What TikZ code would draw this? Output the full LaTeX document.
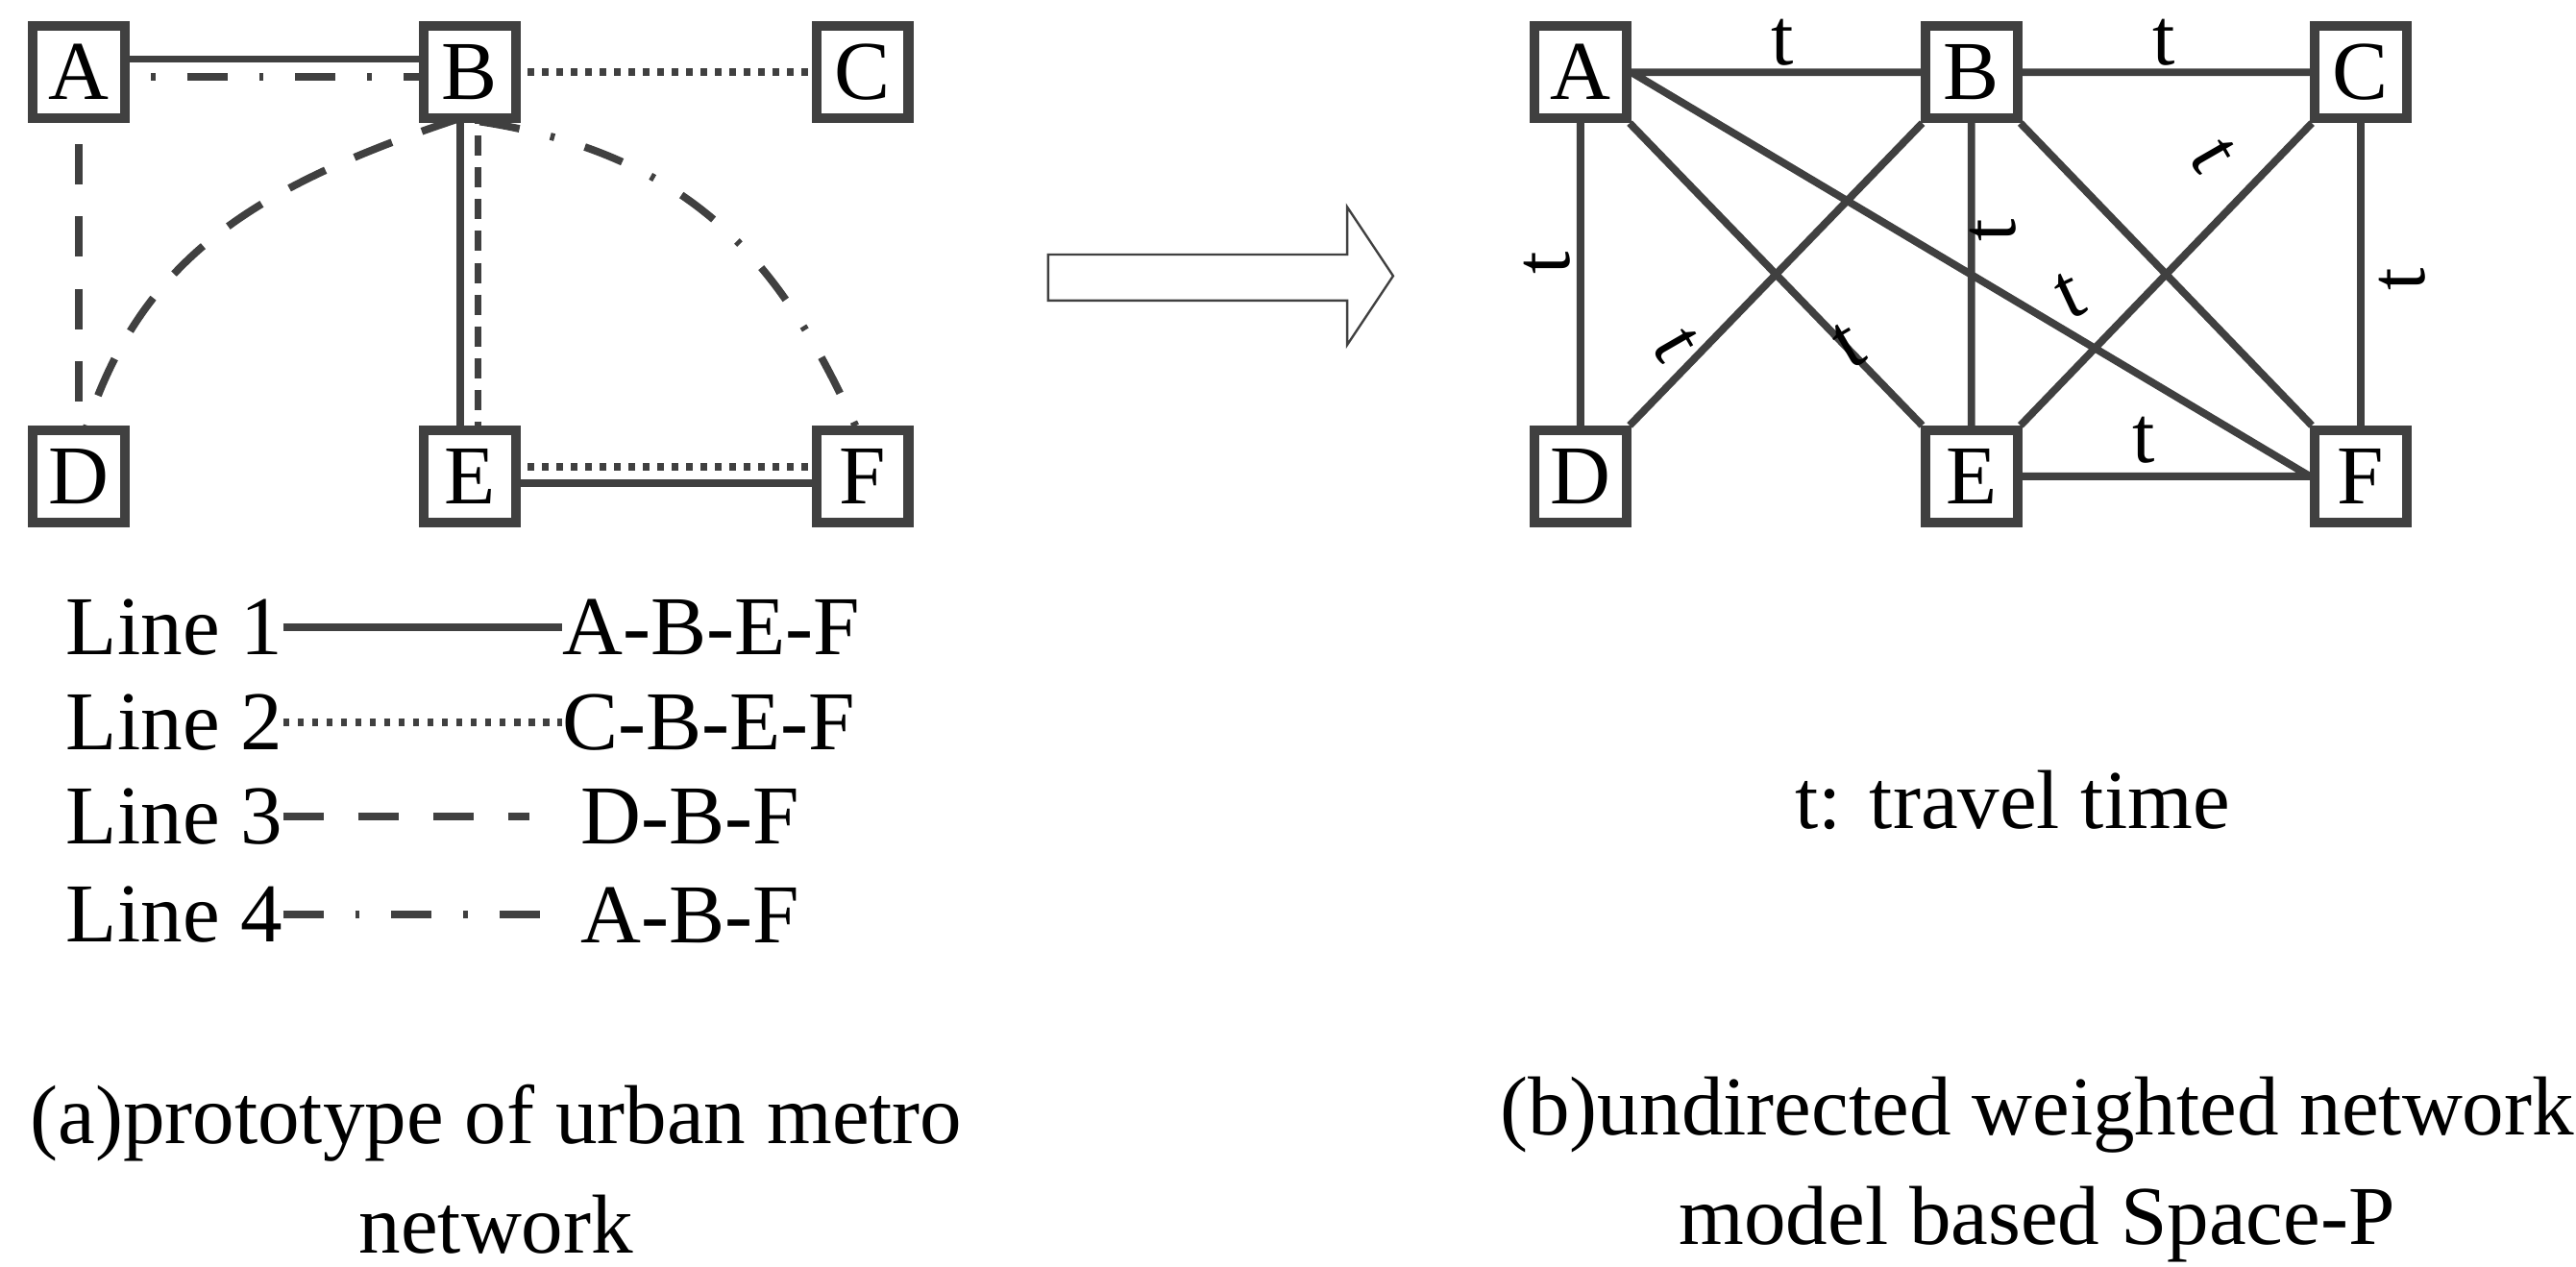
\documentclass[tikz,border=0pt]{standalone}
\usepackage{fontspec}
\setmainfont{Liberation Serif}
\begin{document}
\begin{tikzpicture}[x=0.02cm,y=-0.02cm,
  box/.style={draw=black!75,line width=3.4pt,fill=white,minimum size=1.12cm,inner sep=0pt,font=\fontsize{29}{29}\selectfont},
  ln/.style={draw=black!75,line width=2.6pt},
  lbl/.style={font=\fontsize{28}{28}\selectfont,inner sep=1pt},
  txt/.style={font=\fontsize{29}{34}\selectfont,inner sep=0pt},
  dotl/.style={ln,dash pattern=on 2.2pt off 2.8pt},
  dashl/.style={ln,dash pattern=on 14pt off 11pt},
  dashdotl/.style={ln,dash pattern=on 14pt off 11pt on 1.5pt off 11pt}]
\useasboundingbox (0,0) rectangle (1568,771);
% ---------- left network
\coordinate (lA) at (48,44); \coordinate (lB) at (286,44); \coordinate (lC) at (525,44);
\coordinate (lD) at (48,290); \coordinate (lE) at (286,290); \coordinate (lF) at (525,290);
\draw[ln] (48,36) -- (286,36);
\draw[dashdotl] (48,47) -- (286,47);
\draw[dotl] (lB) -- (lC);
\draw[ln] (280,44) -- (280,290);
\draw[ln,dash pattern=on 7pt off 4pt] (291,44) -- (291,290);
\draw[dotl] (286,284) -- (525,284);
\draw[ln] (286,294) -- (525,294);
\draw[dashl] (lA) -- (lD);
\draw[dashl] (280,72) .. controls (150,115) and (85,160) .. (52,262);
\draw[dashdotl] (292,74) .. controls (430,95) and (480,170) .. (522,262);
\foreach \n/\p in {A/lA,B/lB,C/lC,D/lD,E/lE,F/lF}
  \node[box] (L\n) at (\p) {\n};
% legend
\node[txt,anchor=west] (l1) at (40,382) {Line 1};
\node[txt,anchor=west] (r1) at (342,382) {A-B-E-F};
\draw[ln] (l1.east) -- (r1.west);
\node[txt,anchor=west] (l2) at (40,440) {Line 2};
\node[txt,anchor=west] (r2) at (342,440) {C-B-E-F};
\draw[dotl] (l2.east) -- (r2.west);
\node[txt,anchor=west] (l3) at (40,497) {Line 3};
\node[txt,anchor=west] (r3) at (353,497) {D-B-F};
\coordinate (e3) at (322,497);
\draw[ln,dash pattern=on 14pt off 12pt] (l3.east) -- (e3);
\node[txt,anchor=west] (l4) at (40,557) {Line 4};
\node[txt,anchor=west] (r4) at (353,557) {A-B-F};
\coordinate (e4) at (345,557);
\draw[dashdotl] (l4.east) -- (e4);
\node[txt,align=center] (capa) at (302,712) {(a)prototype of urban metro\\[4pt]network};
% ---------- arrow
\draw[draw=black!75,line width=0.8pt,fill=white] (638,155) -- (820,155) -- (820,126) -- (848,168) -- (820,210) -- (820,183) -- (638,183) -- cycle;
% ---------- right network
\node[box] (A) at (962,44) {A};
\node[box] (B) at (1200,44) {B};
\node[box] (C) at (1437,44) {C};
\node[box] (D) at (962,290) {D};
\node[box] (E) at (1200,290) {E};
\node[box] (F) at (1437,290) {F};
\draw[ln] (A) -- (B) (B) -- (C) (A) -- (D) (B) -- (E) (C) -- (F) (E) -- (F)
  (A) -- (E) (A.east) -- (F.west) (B) -- (D) (B) -- (F) (C) -- (E);
\foreach \n in {A,B,C,D,E,F} \node[box] at (\n) {\n};
\node[lbl] (t1) at (1085,26) {t};
\node[lbl] (t2) at (1317,26) {t};
\node[lbl] (t3) at (1305,268) {t};
\node[lbl,rotate=90] (t4) at (942,160) {t};
\node[lbl,rotate=90] (t5) at (1213,140) {t};
\node[lbl,rotate=90] (t6) at (1462,170) {t};
\node[lbl,rotate=-60] (t7) at (1020,210) {t};
\node[lbl,rotate=30] (t8) at (1125,210) {t};
\node[lbl,rotate=25] (t9) at (1260,180) {t};
\node[lbl,rotate=-60] (t10) at (1347,95) {t};
\node[txt] (tt) at (1225,487) {t: travel time};
\node[txt,align=center] (capb) at (1240,712) {(b)undirected weighted network\\[4pt]model based Space-P};
\end{tikzpicture}
\end{document}
